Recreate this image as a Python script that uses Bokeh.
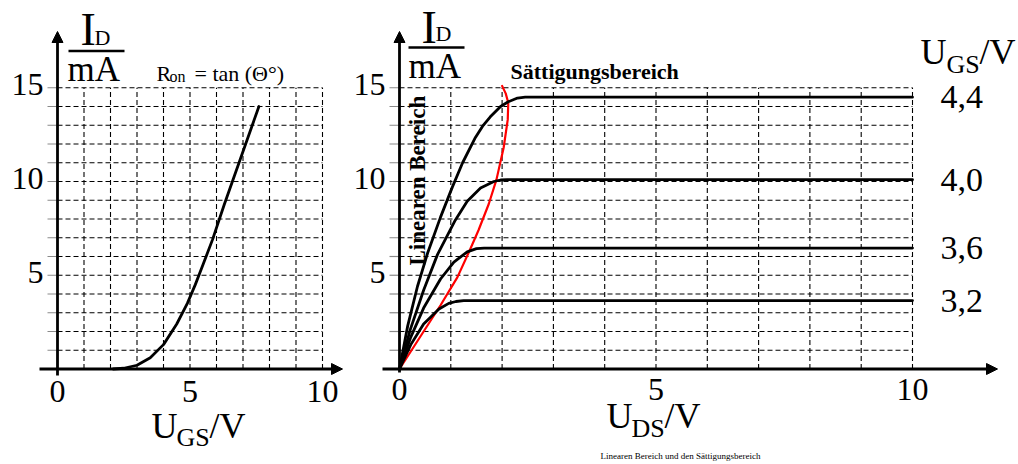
from bokeh.plotting import figure
from bokeh.models import Range1d, Arrow, NormalHead
from bokeh.core.properties import value
from bokeh.embed import file_html
from bokeh.resources import INLINE
import math

# ---------------- data ----------------
# left chart: transfer characteristic I_D (mA) versus U_GS (V)
transfer_ugs = [2.1, 2.5, 3.0, 3.5, 4.0, 4.5, 4.9, 5.2, 5.5, 5.85, 6.3, 6.65, 7.0, 7.3, 7.6]
transfer_id = [0.0, 0.04, 0.2, 0.6, 1.3, 2.4, 3.5, 4.5, 5.6, 6.9, 8.8, 10.2, 11.6, 12.8, 14.0]

# right chart: output characteristics I_D (mA) versus U_DS (V) for several U_GS
ugs_labels = ["4,4", "4,0", "3,6", "3,2"]
uds_44 = [0, 0.16, 0.35, 0.55, 0.8, 1.03, 1.23, 1.48, 1.62, 1.77, 1.97, 2.12, 2.3, 2.45, 10.0]
id_44 = [0, 2.3, 4.4, 6.2, 8.1, 9.7, 11.0, 12.35, 12.95, 13.45, 14.0, 14.25, 14.45, 14.5, 14.5]
uds_40 = [0, 0.21, 0.47, 0.74, 1.09, 1.32, 1.58, 1.84, 1.97, 2.1, 10.0]
id_40 = [0, 2.1, 4.2, 6.1, 7.95, 8.95, 9.65, 10.0, 10.08, 10.1, 10.1]
uds_36 = [0, 0.22, 0.47, 0.8, 1.06, 1.32, 1.5, 1.65, 10.0]
id_36 = [0, 1.7, 3.25, 4.8, 5.7, 6.25, 6.42, 6.45, 6.45]
uds_32 = [0, 0.22, 0.47, 0.77, 0.96, 1.1, 1.25, 10.0]
id_32 = [0, 1.3, 2.4, 3.2, 3.5, 3.6, 3.65, 3.65]
series_uds = [uds_44, uds_40, uds_36, uds_32]
series_id = [id_44, id_40, id_36, id_32]

# boundary between linear and saturation region (red)
boundary_uds = [0, 0.47, 0.8, 1.13, 1.38, 1.54, 1.74, 1.89, 2.03, 2.11, 2.12, 2.07, 2.0]
boundary_id = [0, 2.0, 3.4, 4.9, 6.4, 7.4, 8.8, 10.1, 11.8, 13.3, 14.2, 14.7, 15.1]

x_ticks = [0, 5, 10]
x_tick_labels = ["0", "5", "10"]
y_ticks = [5, 10, 15]
y_tick_labels = ["5", "10", "15"]
grid_x = list(range(1, 11))
grid_y = list(range(1, 16))
x_max = 10
y_max = 15

# ---------------- layout helpers (page pixels -> data units) ----------------
W, H = 1018, 464
L_X0, L_SX = 57.0, 26.5      # left chart: page x of U_GS=0, px per V
R_X0, R_SX = 399.0, 51.3     # right chart: page x of U_DS=0, px per V
Y0, SY = 368.5, 18.75        # page y of I_D=0, px per mA


def lx(px):
    return (px - L_X0) / L_SX


def rx(px):
    return (px - R_X0) / R_SX


def yy(py):
    return (Y0 - py) / SY


FONT = value("Liberation Serif")

p = figure(width=W, height=H,
           x_range=Range1d(rx(0), rx(W)), y_range=Range1d(yy(H), yy(0)),
           x_axis_type=None, y_axis_type=None, toolbar_location=None,
           output_backend="svg", min_border=0, outline_line_color=None,
           title=None, background_fill_color="white", border_fill_color="white")
p.extra_x_ranges = {"L": Range1d(lx(0), lx(W))}
p.grid.visible = False


def txt(x, y, s, size, xr="default", align="left", bold=False, angle=0.0,
        x_offset=0, y_offset=0, color="black"):
    p.text(x=x if isinstance(x, list) else [x], y=y if isinstance(y, list) else [y],
           text=s if isinstance(s, list) else [s],
           text_font=FONT, text_font_size=size, text_align=align,
           text_baseline="middle", text_font_style="bold" if bold else "normal",
           angle=angle, x_offset=x_offset, y_offset=y_offset, text_color=color,
           x_range_name=xr)


def chart_frame(xr, tick_len):
    # dashed grid
    p.segment(x0=grid_x, y0=[0] * len(grid_x), x1=grid_x, y1=[y_max] * len(grid_x),
              line_color="#000000", line_width=1.1, line_dash="5 3", x_range_name=xr)
    p.segment(x0=[0] * len(grid_y), y0=grid_y, x1=[x_max] * len(grid_y), y1=grid_y,
              line_color="#000000", line_width=1.1, line_dash="5 3", x_range_name=xr)
    # small grey tick marks left of the y axis
    p.segment(x0=[-tick_len] * len(grid_y), y0=grid_y, x1=[0] * len(grid_y), y1=grid_y,
              line_color="#8a8a8a", line_width=1.2, x_range_name=xr)


def arrow(x0, y0, x1, y1, xr="default"):
    p.add_layout(Arrow(start=None,
                       end=NormalHead(size=11, fill_color="black", line_color="black"),
                       x_start=x0, y_start=y0, x_end=x1, y_end=y1,
                       line_width=2.8, x_range_name=xr))


# ================= LEFT CHART =================
chart_frame("L", 10 / L_SX)
p.line(transfer_ugs, transfer_id, line_color="black", line_width=2.8,
       line_cap="round", line_join="round", x_range_name="L")

arrow(0, yy(375), 0, yy(31), "L")
arrow(lx(39), 0, lx(342), 0, "L")

# tick labels
txt(x_ticks, [yy(390.5)] * 3, x_tick_labels, "32px", xr="L", align="center")
txt([0] * 3, y_ticks, y_tick_labels, "32px", xr="L", align="right", x_offset=-14, y_offset=-3)

# axis titles
txt(lx(80), yy(29), "I", "46px", xr="L")
txt(lx(94), yy(36.5), "D", "22px", xr="L")
p.segment(x0=[lx(68)], y0=[yy(50.5)], x1=[lx(124)], y1=[yy(50.5)],
          line_color="black", line_width=2.5, x_range_name="L")
txt(lx(67), yy(69), "mA", "35px", xr="L")

txt(lx(156), yy(73), "R", "22px", xr="L")
txt(lx(169), yy(76), "on", "16px", xr="L")
txt(lx(194), yy(73), "= tan (\u0398\u00b0)", "22px", xr="L")

txt(lx(151), yy(425.5), "U", "36px", xr="L")
txt(lx(176), yy(437), "GS", "26px", xr="L")
txt(lx(209), yy(425.5), "/V", "36px", xr="L")

# ================= RIGHT CHART =================
chart_frame("default", 10 / R_SX)
p.line(boundary_uds, boundary_id, line_color="#ff0000", line_width=2.2,
       line_cap="round", line_join="round")
for u, i in zip(series_uds, series_id):
    p.line(u, i, line_color="black", line_width=2.8, line_cap="round", line_join="round")

arrow(0, yy(372), 0, yy(31))
arrow(rx(382), 0, rx(997), 0)

txt(x_ticks, [yy(389)] * 3, x_tick_labels, "32px", align="center")
txt([0] * 3, y_ticks, y_tick_labels, "32px", align="right", x_offset=-14, y_offset=-3)

txt(rx(421), yy(26.5), "I", "46px")
txt(rx(435), yy(33), "D", "22px")
p.segment(x0=[rx(408)], y0=[yy(47)], x1=[rx(464)], y1=[yy(47)],
          line_color="black", line_width=2.5)
txt(rx(408), yy(66), "mA", "35px")

txt(rx(606), yy(415.5), "U", "36px")
txt(rx(631), yy(428), "DS", "26px")
txt(rx(664), yy(415.5), "/V", "36px")

# U_GS/V legend title and curve labels
txt(rx(920), yy(51.5), "U", "36px")
txt(rx(946), yy(64), "GS", "26px")
txt(rx(979), yy(51.5), "/V", "36px")
plateaus = [s[-1] for s in series_id]
txt([x_max] * len(ugs_labels), plateaus, ugs_labels, "34px", x_offset=28)

# region labels
txt(rx(510), yy(70.5), "S\u00e4ttigungsbereich", "22px", bold=True)
txt(rx(416.5), yy(265), "Linearen Bereich", "23px", bold=True, angle=math.pi / 2)

# caption
txt(rx(680), yy(455), "Linearen Bereich und den S\u00e4ttigungsbereich", "9px", align="center")

open("out.html", "w").write(file_html(p, INLINE))
